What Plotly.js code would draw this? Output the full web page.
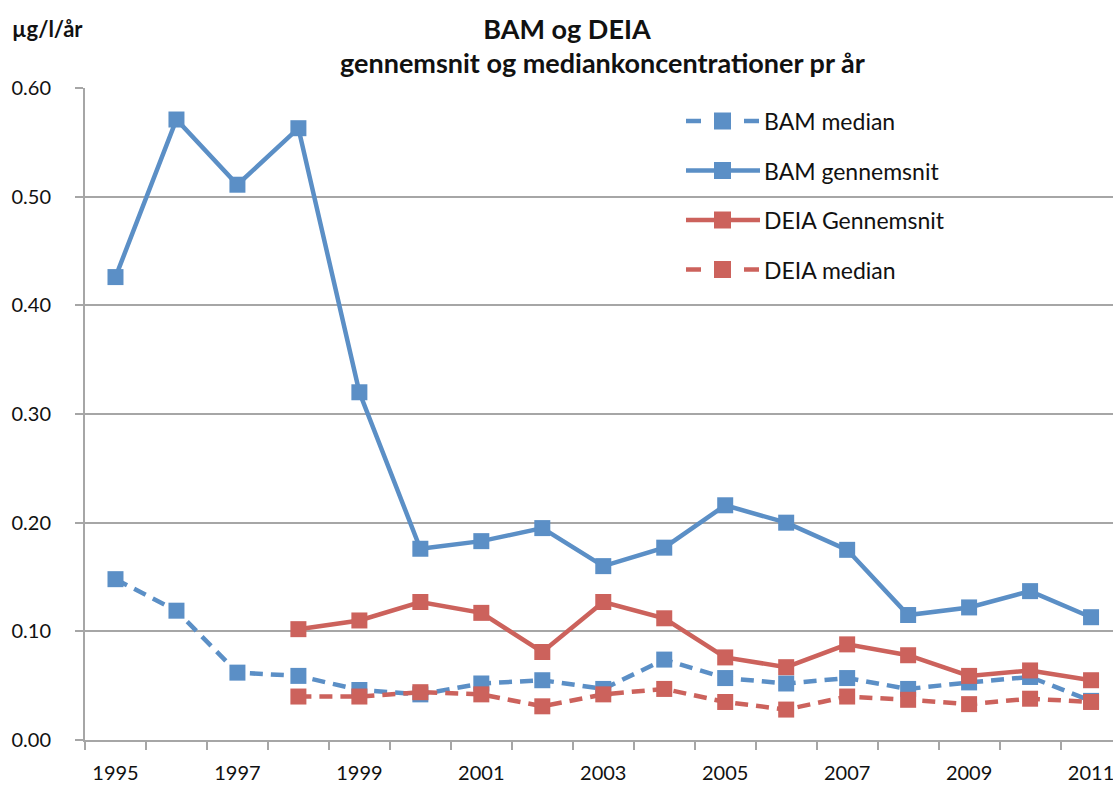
<!DOCTYPE html>
<html>
<head>
<meta charset="utf-8">
<script src="https://cdn.plot.ly/plotly-3.0.1.min.js"></script>
<style>html,body{margin:0;padding:0;background:#fff;}#chart{width:1113px;height:787px;}</style>
</head>
<body>
<div id="chart"></div>
<script>
const years = [1995,1996,1997,1998,1999,2000,2001,2002,2003,2004,2005,2006,2007,2008,2009,2010,2011];
const labelYears = [1995,1997,1999,2001,2003,2005,2007,2009,2011];
const bamMedian = [0.148,0.119,0.062,0.059,0.046,0.042,0.052,0.055,0.047,0.074,0.057,0.052,0.057,0.047,0.053,0.058,0.036];
const bamMean   = [0.426,0.571,0.511,0.563,0.320,0.176,0.183,0.195,0.160,0.177,0.216,0.200,0.175,0.115,0.122,0.137,0.113];
const deiaYears = [1998,1999,2000,2001,2002,2003,2004,2005,2006,2007,2008,2009,2010,2011];
const deiaMean  = [0.102,0.110,0.127,0.117,0.081,0.127,0.112,0.076,0.067,0.088,0.078,0.059,0.064,0.055];
const deiaMedian= [0.040,0.040,0.044,0.042,0.031,0.042,0.047,0.035,0.028,0.040,0.037,0.033,0.038,0.035];
const seriesNames = ['BAM median','BAM gennemsnit','DEIA Gennemsnit','DEIA median'];

const BLUE = '#5b8fc6', RED = '#cc625c', GRID = '#a6a6a6';
const FONT = 'Lato, "Open Sans", sans-serif';
const LW = 4.5;

function tr(name, x, y, color, dashed){
  return {x:x, y:y, name:name, type:'scatter', mode:'lines+markers', showlegend:false,
    line:{color:color, width:LW, dash: dashed ? '13px,8px' : 'solid'},
    marker:{symbol:'square', size:16, color:color}, cliponaxis:false};
}
const styles = [[BLUE,true],[BLUE,false],[RED,false],[RED,true]];
const values = [[years,bamMedian],[years,bamMean],[deiaYears,deiaMean],[deiaYears,deiaMedian]];
const data = seriesNames.map((n,i)=>tr(n, values[i][0], values[i][1], styles[i][0], styles[i][1]));

// plot area geometry (px) used for the hand-built legend
const L = 85, T = 88, W = 1028, H = 652;
const px = v => (v - L) / W, py = v => 1 - (v - T) / H;

const shapes = [{type:'rect', xref:'paper', yref:'y', x0:px(570), x1:px(1075), y0:0.46, y1:0.54,
  fillcolor:'#fff', line:{width:0}, layer:'between'}];
const annotations = [
  {text:'<b>gennemsnit og mediankoncentrationer pr år</b>', xref:'paper', yref:'paper', showarrow:false,
    x:px(602), y:py(63), xanchor:'center', yanchor:'middle', font:{family:FONT, size:27, color:'#111'}},
  {text:'<b>µg/l/år</b>', xref:'paper', yref:'paper', showarrow:false,
    x:px(10), y:py(29), xanchor:'left', yanchor:'middle', font:{family:FONT, size:22, color:'#111'}}
];
seriesNames.forEach((n,i)=>{
  const yc = py(121 + 49.5*i), col = styles[i][0], dashed = styles[i][1];
  if (dashed) {
    shapes.push({type:'line', xref:'paper', yref:'paper', x0:px(686), x1:px(701), y0:yc, y1:yc, line:{color:col, width:LW}});
    shapes.push({type:'line', xref:'paper', yref:'paper', x0:px(744), x1:px(759), y0:yc, y1:yc, line:{color:col, width:LW}});
  } else {
    shapes.push({type:'line', xref:'paper', yref:'paper', x0:px(686), x1:px(760), y0:yc, y1:yc, line:{color:col, width:LW}});
  }
  shapes.push({type:'rect', xref:'paper', yref:'paper', x0:px(714), x1:px(731), y0:yc-8.5/H, y1:yc+8.5/H,
    fillcolor:col, line:{width:0}});
  annotations.push({text:n, xref:'paper', yref:'paper', showarrow:false, x:px(762), y:yc,
    xanchor:'left', yanchor:'middle', font:{family:FONT, size:23, color:'#111'}});
});

const layout = {
  width:1113, height:787,
  margin:{l:L, r:0, t:T, b:47},
  paper_bgcolor:'#fff', plot_bgcolor:'#fff',
  font:{family:FONT, size:20, color:'#111'},
  showlegend:false,
  title:{text:'<b>BAM og DEIA</b>', font:{family:FONT, size:27, color:'#111'},
    xref:'container', yref:'container', x:567/1113, y:1-30/787, xanchor:'center', yanchor:'middle'},
  xaxis:{type:'linear', range:[1994.5, 2011.36], tickvals:labelYears, ticktext:labelYears.map(String),
    ticks:'', showgrid:false, zeroline:false, showline:true, linecolor:GRID, linewidth:2,
    ticklabeloverflow:'allow',
    tickfont:{family:FONT, size:20, color:'#111'}, ticklabelstandoff:14,
    minor:{tick0:1994.5, dtick:1, ticks:'outside', ticklen:8, tickwidth:2, tickcolor:GRID, showgrid:false}},
  yaxis:{range:[0,0.6], dtick:0.1, tick0:0, tickformat:'.2f', showgrid:true, gridcolor:GRID, gridwidth:2,
    zeroline:false, showline:true, linecolor:GRID, linewidth:2, ticks:'outside', ticklen:8, tickwidth:2, tickcolor:GRID,
    tickfont:{family:FONT, size:20, color:'#111'}, ticklabelstandoff:20},
  shapes:shapes,
  annotations:annotations
};
Plotly.newPlot('chart', data, layout, {displayModeBar:false, staticPlot:true});
</script>
</body>
</html>
